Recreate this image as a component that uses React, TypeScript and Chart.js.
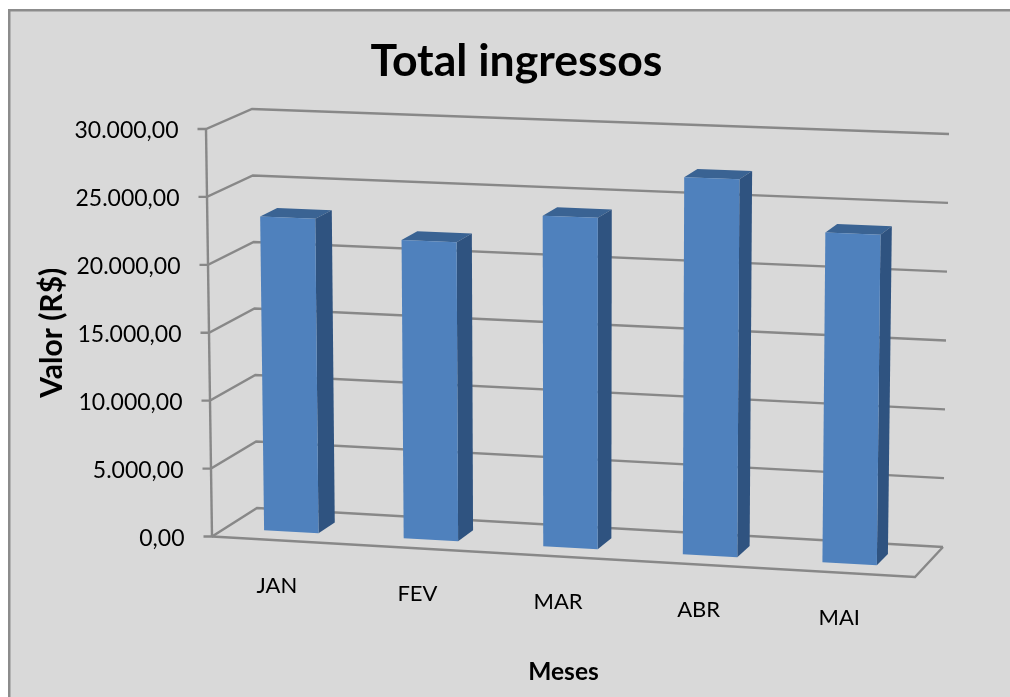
import React, { useEffect, useRef } from "react";
import { Chart, registerables } from "chart.js";

Chart.register(...registerables);

// Monthly totals, in R$
const months = ["JAN", "FEV", "MAR", "ABR", "MAI"];
const totals = [23200, 21900, 24100, 27300, 23700];

const chartTitle = "Total ingressos";
const yAxisTitle = "Valor (R$)";
const xAxisTitle = "Meses";

const FONT = "Lato";
const INK = "#000000";
const PANEL = "#d9d9d9";
const FRAME = "#8c8c8c";
const GRID = "#888888";
const BAR_FRONT = "#4f81bd";
const BAR_SIDE = "#2f5380";
const BAR_TOP = "#3a6393";

// Corners of the box the plot is projected into: [u][value][depth]
type Pt = [number, number];
const box: Record<string, Pt> = {
  l00: [212, 536.5],
  r00: [915, 577],
  l01: [257, 508],
  r01: [943, 547],
  l10: [206, 129],
  r10: [920, 155],
  l11: [252, 109],
  r11: [949, 134],
};
const BAR_NEAR = 0.3;
const BAR_FAR = 0.68;
const BAR_U_SHIFT = -0.0057;

const mix = (a: Pt, b: Pt, t: number): Pt => [a[0] + (b[0] - a[0]) * t, a[1] + (b[1] - a[1]) * t];

function project(u: number, v: number, w: number): Pt {
  const near = mix(mix(box.l00, box.r00, u), mix(box.l10, box.r10, u), v);
  const far = mix(mix(box.l01, box.r01, u), mix(box.l11, box.r11, u), v);
  return mix(near, far, w);
}

function polygon(ctx: CanvasRenderingContext2D, pts: Pt[], fill: string) {
  ctx.beginPath();
  pts.forEach((p, i) => (i ? ctx.lineTo(p[0], p[1]) : ctx.moveTo(p[0], p[1])));
  ctx.closePath();
  ctx.fillStyle = fill;
  ctx.fill();
}

function polyline(ctx: CanvasRenderingContext2D, pts: Pt[]) {
  ctx.beginPath();
  pts.forEach((p, i) => (i ? ctx.lineTo(p[0], p[1]) : ctx.moveTo(p[0], p[1])));
  ctx.stroke();
}

const formatValue = (value: number) => {
  const [whole, cents] = value.toFixed(2).split(".");
  return `${whole.replace(/\B(?=(\d{3})+$)/g, ".")},${cents}`;
};

const perspectivePlugin = {
  id: "perspectiveBox",
  beforeDraw(chart: any) {
    const { ctx, width, height } = chart;
    ctx.save();
    ctx.fillStyle = FRAME;
    ctx.fillRect(8, 9, width - 8, height - 9);
    ctx.fillStyle = PANEL;
    ctx.fillRect(10.5, 11.5, width - 10.5, height - 11.5);
    ctx.restore();
  },
  afterLayout(chart: any) {
    // The heading sits right of the plot's own centre line
    if (chart.titleBlock) {
      chart.titleBlock.left += 59;
      chart.titleBlock.right += 59;
    }
  },
  beforeDatasetsDraw(chart: any) {
    const { ctx, chartArea, scales } = chart;
    const toU = (px: number) => (px - chartArea.left) / (chartArea.right - chartArea.left);
    const toV = (py: number) => (chartArea.bottom - py) / (chartArea.bottom - chartArea.top);

    ctx.save();
    ctx.lineJoin = "miter";
    ctx.lineCap = "butt";
    ctx.strokeStyle = GRID;
    ctx.lineWidth = 2.4;

    // Walls, floor and value ticks
    polyline(ctx, [project(0, 0, 0), project(0, 1, 0)]);
    for (const tick of scales.y.ticks) {
      const v = toV(scales.y.getPixelForValue(tick.value));
      const front = project(0, v, 0);
      polyline(ctx, [[front[0] - 8.5, front[1]], front, project(0, v, 1), project(1, v, 1)]);

      ctx.fillStyle = INK;
      ctx.font = `23px ${FONT}`;
      ctx.textAlign = "right";
      ctx.textBaseline = "middle";
      ctx.fillText(tick.label, front[0] - 27.5, front[1] + 2);
    }
    polyline(ctx, [project(0, 0, 0), project(1, 0, 0), project(1, 0, 1)]);

    // Bars, each one a box built from the bar element's own geometry
    chart.getDatasetMeta(0).data.forEach((bar: any) => {
      const u0 = toU(bar.x - bar.width / 2) + BAR_U_SHIFT;
      const u1 = toU(bar.x + bar.width / 2) + BAR_U_SHIFT;
      const v0 = toV(bar.base);
      const v1 = toV(bar.y);
      polygon(ctx, [project(u0, v1, BAR_NEAR), project(u0, v1, BAR_FAR), project(u1, v1, BAR_FAR), project(u1, v1, BAR_NEAR)], BAR_TOP);
      polygon(ctx, [project(u1, v0, BAR_NEAR), project(u1, v0, BAR_FAR), project(u1, v1, BAR_FAR), project(u1, v1, BAR_NEAR)], BAR_SIDE);
      polygon(ctx, [project(u0, v0, BAR_NEAR), project(u1, v0, BAR_NEAR), project(u1, v1, BAR_NEAR), project(u0, v1, BAR_NEAR)], BAR_FRONT);
    });

    // Category labels follow the slanted front edge of the floor
    ctx.fillStyle = INK;
    ctx.font = `22px ${FONT}`;
    ctx.textAlign = "center";
    ctx.textBaseline = "middle";
    scales.x.ticks.forEach((tick: any, i: number) => {
      const p = project(toU(scales.x.getPixelForTick(i)), 0, 0);
      ctx.fillText(scales.x.getLabelForValue(tick.value), p[0] - 5.5, p[1] + 45);
    });

    ctx.restore();
    return false;
  },
};

export default function App() {
  const canvasRef = useRef<HTMLCanvasElement>(null);

  useEffect(() => {
    const chart = new Chart(canvasRef.current as HTMLCanvasElement, {
      type: "bar",
      data: {
        labels: months,
        datasets: [
          {
            label: chartTitle,
            data: totals,
            backgroundColor: BAR_FRONT,
            categoryPercentage: 0.39,
            barPercentage: 1,
          },
        ],
      },
      options: {
        responsive: false,
        animation: false,
        devicePixelRatio: 1,
        layout: { padding: { left: 0, right: 95, top: 0, bottom: 0 } },
        plugins: {
          legend: { display: false },
          tooltip: { enabled: false },
          title: {
            display: true,
            text: chartTitle,
            color: INK,
            font: { family: FONT, size: 44.6, weight: "bold", lineHeight: 1.2 },
            padding: { top: 35, bottom: 40.5 },
          },
        },
        scales: {
          x: {
            grid: { display: false, drawTicks: false },
            border: { display: false },
            ticks: { display: false },
            title: {
              display: true,
              text: xAxisTitle,
              color: INK,
              font: { family: FONT, size: 24.5, weight: "bold", lineHeight: 1.2 },
              padding: { top: 0, bottom: 10 },
            },
            afterFit(scale: any) {
              scale.height = 160.5;
            },
          },
          y: {
            min: 0,
            max: 30000,
            grid: { display: false, drawTicks: false },
            border: { display: false },
            ticks: { display: false, stepSize: 5000, callback: (value: any) => formatValue(Number(value)) },
            title: {
              display: true,
              text: yAxisTitle,
              color: INK,
              font: { family: FONT, size: 30, weight: "bold", lineHeight: 1.2 },
              padding: { top: 34, bottom: 0 },
            },
            afterFit(scale: any) {
              scale.width = 212;
            },
          },
        },
      },
      plugins: [perspectivePlugin],
    } as any);
    return () => chart.destroy();
  }, []);

  return (
    <canvas
      ref={canvasRef}
      width={1010}
      height={697}
      style={{ position: "fixed", left: 0, top: 0, display: "block" }}
    />
  );
}
